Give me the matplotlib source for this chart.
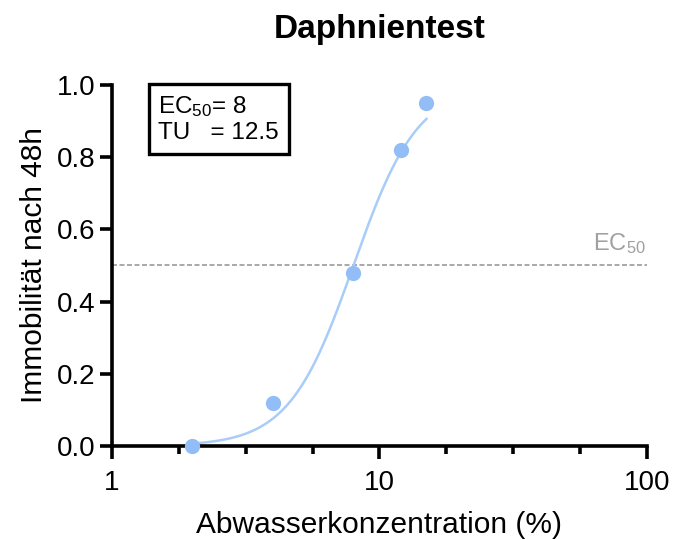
import numpy as np
import matplotlib
matplotlib.use("Agg")
from matplotlib import pyplot as plt
from matplotlib.ticker import FixedLocator, NullFormatter

plt.rcParams['font.family'] = ['Liberation Sans', 'DejaVu Sans']
plt.rcParams['mathtext.fontset'] = 'custom'
plt.rcParams['mathtext.rm'] = 'Liberation Sans'
plt.rcParams['mathtext.it'] = 'Liberation Sans'
plt.rcParams['mathtext.default'] = 'regular'

## measured points
konz = [2, 4, 8, 12, 15]  ## %
immob = [0.0, 0.12, 0.48, 0.82, 0.95]

## fitted dose response
ec50 = 8.0
hill = 3.6
tu = 100.0 / ec50

fit_x = np.logspace(np.log10(2), np.log10(15), 200)
fit_y = 1.0 / (1.0 + (ec50 / fit_x) ** hill)

blue = '#92bdf6'
line_blue = '#a9cdf7'

fig = plt.figure(figsize=(6.73, 5.39), dpi=100)
ax = fig.add_axes([0.1664, 0.1725, 0.7946, 0.6700])

ax.plot(fit_x, fit_y, color=line_blue, lw=1.8, zorder=2)
ax.plot(konz, immob, 'o', color=blue, ms=11, mec='none', clip_on=False, zorder=3)
ax.axhline(0.5, color='#9a9a9a', lw=1.2, ls=(0, (3, 1.5)), zorder=1)

ax.set_xscale('log')
ax.set_xlim(1, 100)
ax.set_ylim(0, 1.0)
ax.set_xticks([1, 10, 100])
ax.set_xticklabels(['1', '10', '100'])
ax.xaxis.set_minor_locator(FixedLocator([10 ** (k / 4) for k in [1, 2, 3, 5, 6, 7]]))
ax.xaxis.set_minor_formatter(NullFormatter())
ax.set_yticks([0, 0.2, 0.4, 0.6, 0.8, 1.0])
ax.set_yticklabels(['0.0', '0.2', '0.4', '0.6', '0.8', '1.0'])

for s in ['top', 'right']:
    ax.spines[s].set_visible(False)
for s in ['left', 'bottom']:
    ax.spines[s].set_linewidth(2.6)
ax.tick_params(which='major', length=9, width=2.6, labelsize=20, pad=3)
ax.tick_params(which='minor', length=6, width=2.6)
ax.tick_params(axis='x', which='major', pad=8)

ax.set_xlabel('Abwasserkonzentration (%)', fontsize=21.5, labelpad=11)
ax.set_ylabel('Immobilität nach 48h', fontsize=21.5, labelpad=6)
ax.set_title('Daphnientest', fontsize=24, fontweight='bold', pad=34)

box = ax.text(1.49, 0.905, 'EC$_{50}$= %g\nTU   = %g' % (ec50, tu), fontsize=17.5,
              va='center', ha='left', linespacing=1.15, clip_on=False,
              bbox=dict(boxstyle='square,pad=0.4', fc='white', ec='black', lw=2.4))
ax.text(99.5, 0.525, 'EC$_{50}$', fontsize=17, color='#a0a0a0', ha='right', va='bottom')

fig.savefig('out.png', dpi=100)
